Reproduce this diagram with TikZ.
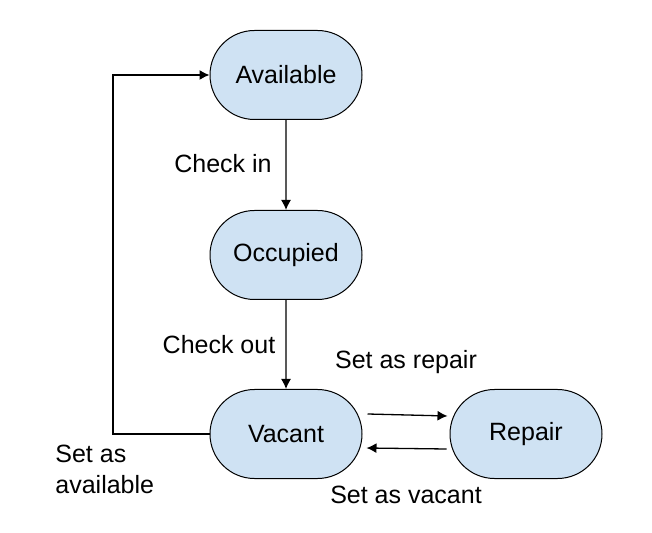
\documentclass[tikz,border=0pt]{standalone}
\usepackage{fontspec}
\setmainfont{Liberation Sans}
\usetikzlibrary{shapes.misc,arrows.meta}
\definecolor{stateblue}{HTML}{CFE2F3}
\begin{document}
\begin{tikzpicture}[x=0.5pt,y=-0.5pt,
    every node/.style={font=\fontsize{12.5}{15.5}\selectfont},
    state/.style={rounded rectangle,draw,fill=stateblue,line width=0.5pt,
      minimum width=76pt,minimum height=44.5pt,inner sep=0pt},
    arr/.style={-{Latex[length=5pt,width=5pt]},line width=0.65pt}]
    \useasboundingbox (0,0) rectangle (652,533);
    \node[state] (available) at (286,75) {Available};
    \node[state] (occupied) at (286,255) {Occupied};
    \node[state] (vacant) at (286,434) {Vacant};
    \node[state] (repair) at (526,434) {Repair};
    \coordinate (loop) at (113,254);
    \draw[arr] (available) -- (occupied);
    \draw[arr] (occupied) -- (vacant);
    \draw[arr] ([shift={(5,-20)}]vacant.east) -- ([shift={(-2,-18)}]repair.west);
    \draw[arr] ([shift={(-3,15)}]repair.west) -- ([shift={(4,14)}]vacant.east);
    \draw[arr] (vacant.west) -| (loop) |- (available.west);
    \node (checkin) at (223,164) {Check in};
    \node (checkout) at (219,345) {Check out};
    \node (setrepair) at (406,362) {Set as repair};
    \node (setvacant) at (406,495) {Set as vacant};
    \node[align=left,anchor=west,inner sep=0pt] (setavailable) at (55,469) {Set as\\available};
\end{tikzpicture}
\end{document}
